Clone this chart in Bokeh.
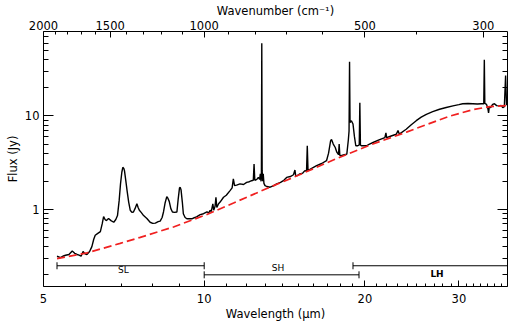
import numpy as np
from bokeh.plotting import figure
from bokeh.models import (LogAxis, FixedTicker, CustomJSTickFormatter,
                          BasicTickFormatter, Range1d, ColumnDataSource)
from bokeh.embed import file_html
from bokeh.resources import INLINE
from bokeh.core.properties import value

# ---------------- data ----------------
wavelength = [5.30, 5.38, 5.45, 5.50, 5.58, 5.66, 5.72, 5.78, 5.83, 5.88, 5.93, 5.98,
              6.03, 6.10, 6.16, 6.21, 6.25, 6.32, 6.39, 6.44, 6.48, 6.52, 6.56, 6.62,
              6.69, 6.77, 6.83, 6.88, 6.93, 6.97, 7.01, 7.04, 7.07, 7.09, 7.13, 7.17,
              7.22, 7.27, 7.32, 7.37, 7.42, 7.48, 7.52, 7.56, 7.62, 7.70, 7.81, 7.92,
              8.01, 8.10, 8.20, 8.27, 8.34, 8.39, 8.45, 8.51, 8.55, 8.60, 8.66, 8.72,
              8.80, 8.89, 8.94, 8.99, 9.02, 9.05, 9.10, 9.14, 9.21, 9.28, 9.48, 9.60,
              9.69, 9.83, 9.97, 10.12, 10.20, 10.26, 10.31, 10.38, 10.42, 10.48, 10.52,
              10.56, 10.64, 10.71, 10.87, 11.00, 11.18, 11.28, 11.34, 11.40, 11.50,
              11.67, 11.85, 12.01, 12.15, 12.27, 12.36, 12.40, 12.44, 12.55, 12.63,
              12.70, 12.74, 12.78, 12.80, 12.82, 12.84, 12.87, 12.90, 12.94, 13.00,
              13.10, 13.29, 13.50, 13.67, 13.90, 14.10, 14.27, 14.50, 14.70, 14.79,
              14.84, 14.95, 15.11, 15.30, 15.44, 15.55, 15.60, 15.65, 15.90, 16.24,
              16.60, 16.95, 17.10, 17.25, 17.32, 17.45, 17.60, 17.72, 17.85, 17.90,
              17.95, 18.05, 18.30, 18.50, 18.62, 18.68, 18.72, 18.76, 18.87, 19.00,
              19.12, 19.23, 19.40, 19.52, 19.57, 19.62, 19.70, 20.14, 20.40, 20.72,
              21.20, 21.80, 21.90, 21.97, 22.40, 22.90, 23.07, 23.20, 23.90, 24.40,
              24.96, 25.50, 26.07, 26.80, 27.60, 28.40, 29.24, 30.00, 30.50, 31.20,
              31.86, 32.50, 33.04, 33.40, 33.48, 33.55, 33.80, 34.00, 34.10, 34.20,
              34.40, 34.70, 34.98, 35.30, 35.70, 36.00, 36.25, 36.50, 36.70, 36.85]
flux = [0.316, 0.306, 0.318, 0.324, 0.33, 0.36, 0.34, 0.33, 0.325, 0.316, 0.355, 0.335,
        0.33, 0.355, 0.40, 0.48, 0.53, 0.555, 0.58, 0.70, 0.84, 0.78, 0.76, 0.80,
        0.76, 0.73, 0.78, 0.86, 1.25, 1.88, 2.5, 2.82, 2.75, 2.6, 2.05, 1.59,
        1.2, 0.98, 0.93, 0.94, 1.02, 1.15, 1.05, 0.98, 0.93, 0.86, 0.80, 0.73,
        0.71, 0.715, 0.74, 0.75, 0.82, 0.94, 1.18, 1.37, 1.32, 1.22, 1.02, 0.94,
        0.93, 0.94, 1.3, 1.70, 1.72, 1.62, 1.2, 0.90, 0.82, 0.795, 0.795, 0.82,
        0.84, 0.88, 0.90, 0.94, 0.92, 0.98, 0.95, 1.15, 0.98, 1.08, 1.35,
        1.05, 1.15, 1.2, 1.35, 1.42, 1.59, 1.7, 2.12, 1.8, 1.82,
        1.88, 1.85, 1.95, 1.98, 2.03, 2.05, 3.06, 2.05, 2.1, 2.2,
        2.1, 2.4, 2.0, 2.5, 60.0, 2.6, 2.0, 2.4, 1.9, 1.8,
        1.76, 1.73, 1.8, 1.88, 1.95, 2.05, 2.2, 2.25, 2.35, 2.64,
        2.3, 2.3, 2.4, 2.45, 2.6, 2.55, 4.8, 2.6, 2.75, 2.94,
        3.1, 3.32, 4.0, 5.4, 5.6, 5.0, 4.6, 4.1, 3.85, 5.0,
        3.8, 3.75, 3.85, 3.9, 5.5, 6.9, 38.0, 8.5, 8.9, 8.2,
        6.0, 4.8, 4.8, 4.9, 13.8, 4.9, 4.8, 4.8, 5.0, 5.2,
        5.5, 5.87, 6.6, 5.87, 6.1, 6.37, 7.0, 6.4, 7.2, 8.0,
        8.9, 9.7, 10.4, 11.1, 11.8, 12.3, 12.8, 13.2, 13.5, 13.6,
        13.5, 13.4, 13.5, 13.5, 40.0, 13.6, 13.3, 12.0, 10.8, 12.5,
        12.3, 13.3, 13.5, 12.9, 12.8, 13.0, 12.3, 12.6, 27.0, 13.0]

cont_wavelength = [5.30, 6.03, 6.96, 7.59, 8.76, 10.12, 11.35, 13.10, 15.12, 17.45,
                   20.44, 23.93, 26.10, 28.84, 31.88, 34.27, 36.81]
cont_flux = [0.298, 0.343, 0.434, 0.503, 0.650, 0.884, 1.173, 1.675, 2.363, 3.376,
             4.88, 6.72, 8.08, 9.95, 11.67, 12.57, 12.88]

x_major = [5, 10, 20, 30]
x_minor = [6, 7, 8, 9] + list(range(11, 20)) + list(range(21, 30)) + list(range(31, 38))
y_major = [1, 10]
y_minor = [0.2, 0.3, 0.4, 0.5, 0.6, 0.7, 0.8, 0.9, 2, 3, 4, 5, 6, 7, 8, 9,
           20, 30, 40, 50, 60, 70]
wn_major = [2000, 1500, 1000, 500, 300]
wn_minor = [1900, 1800, 1700, 1600, 1400, 1300, 1200, 1100, 900, 800, 700, 600, 400]

modules = ["SL", "SH", "LH"]
mod_start = [5.3, 10.0, 19.0]
mod_end = [10.0, 19.5, 38.0]
mod_level = [0.25, 0.2, 0.25]
label_x = [7.06, 13.75, 27.3]
label_y = [0.224, 0.236, 0.203]

# ---------------- figure ----------------
FONT = "DejaVu Sans"
FS = "11.5px"

p = figure(width=515, height=326, x_axis_type="log", y_axis_type="log",
           x_range=Range1d(5, 37), y_range=Range1d(0.15, 80),
           output_backend="svg", toolbar_location=None,
           min_border_left=43, min_border_right=8, min_border_top=31,
           min_border_bottom=40)
p.outline_line_color = None
p.xgrid.visible = False
p.ygrid.visible = False
p.background_fill_color = "white"
p.border_fill_color = "white"

def style(ax, tick_in, minor_in):
    ax.major_tick_in = tick_in
    ax.major_tick_out = 0
    ax.minor_tick_in = minor_in
    ax.minor_tick_out = 0
    ax.axis_line_color = "black"
    ax.major_tick_line_color = "black"
    ax.minor_tick_line_color = "black"
    ax.major_label_text_font = FONT
    ax.major_label_text_font_size = FS
    ax.major_label_text_color = "black"
    ax.axis_label_text_font = FONT
    ax.axis_label_text_font_size = FS
    ax.axis_label_text_font_style = "normal"
    ax.axis_label_text_color = "black"

xb = p.xaxis[0]
xb.ticker = FixedTicker(ticks=x_major, minor_ticks=x_minor)
xb.formatter = BasicTickFormatter()
xb.axis_label = "Wavelength (\u03bcm)"
style(xb, 6, 3)
xb.major_label_standoff = 7
xb.axis_label_standoff = 1

yl = p.yaxis[0]
yl.ticker = FixedTicker(ticks=y_major, minor_ticks=y_minor)
yl.formatter = BasicTickFormatter()
yl.axis_label = "Flux (Jy)"
style(yl, 10, 5)
yl.major_label_standoff = 4
yl.axis_label_standoff = 2

xt = LogAxis(ticker=FixedTicker(ticks=[10000.0 / w for w in wn_major],
                                minor_ticks=[10000.0 / w for w in wn_minor]),
             formatter=CustomJSTickFormatter(code="return Math.round(10000/tick).toString();"),
             axis_label="Wavenumber (cm\u207b\u00b9)")
style(xt, 6, 3)
xt.major_label_standoff = 2
xt.axis_label_standoff = 0
p.add_layout(xt, "above")

yr = LogAxis(ticker=FixedTicker(ticks=y_major, minor_ticks=y_minor),
             formatter=CustomJSTickFormatter(code="return '';"))
style(yr, 10, 5)
yr.major_label_standoff = 0
yr.major_label_text_font_size = "0px"
p.add_layout(yr, "right")

# spectrum
src = ColumnDataSource(dict(x=wavelength, y=flux))
p.line("x", "y", source=src, line_color="black", line_width=1.4)

# continuum
csrc = ColumnDataSource(dict(x=cont_wavelength, y=cont_flux))
p.line("x", "y", source=csrc, line_color="#f02020", line_width=1.7, line_dash="8 4")

# module ranges
msrc = ColumnDataSource(dict(x0=mod_start, x1=mod_end, y=mod_level))
p.segment(x0="x0", y0="y", x1="x1", y1="y", source=msrc, line_color="black", line_width=1)
caps = ColumnDataSource(dict(x=mod_start + mod_end, y=mod_level + mod_level))
p.scatter("x", "y", source=caps, marker="dash", angle=np.pi / 2, size=7,
          line_color="black", line_width=1)

lsrc = ColumnDataSource(dict(x=label_x[:2], y=label_y[:2], t=modules[:2]))
p.text("x", "y", text="t", source=lsrc, text_font=value(FONT), text_font_size=value("9px"),
       text_align="center", text_baseline="middle", text_color="black")
lsrc2 = ColumnDataSource(dict(x=label_x[2:], y=label_y[2:], t=modules[2:]))
p.text("x", "y", text="t", source=lsrc2, text_font=value(FONT), text_font_size=value("9px"),
       text_font_style="bold", text_align="center", text_baseline="middle", text_color="black")

open("out.html", "w").write(file_html(p, INLINE))
